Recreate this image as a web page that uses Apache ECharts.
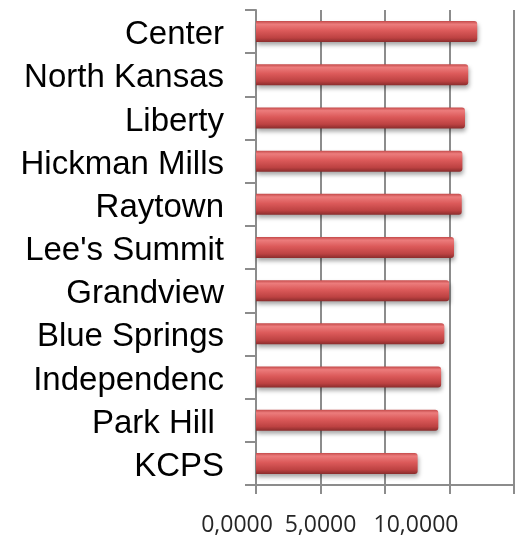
<!DOCTYPE html>
<html>
<head>
<meta charset="utf-8">
<script src="https://cdn.jsdelivr.net/npm/echarts@6/dist/echarts.min.js"></script>
<style>html,body{margin:0;padding:0;background:#fff;}#c{width:517px;height:537px;}</style>
</head>
<body>
<div id="c"></div>
<script>
var categories = ['Center', 'North Kansas', 'Liberty', 'Hickman Mills', 'Raytown', "Lee's Summit", 'Grandview', 'Blue Springs', 'Independenc', 'Park Hill ', 'KCPS'];
var values = [17150, 16450, 16200, 16000, 15950, 15350, 14980, 14600, 14350, 14130, 12530];
var tickLabels = {0: '{a|0,0000}', 5000: '{b|5,0000}', 10000: '{c|10,0000}'};

var chart = echarts.init(document.getElementById('c'));
var lbl = {fontSize: 23, fontFamily: 'Open Sans', color: '#262626'};
chart.setOption({
  animation: false,
  grid: {left: 256, right: 2, top: 10, bottom: 51},
  xAxis: {
    type: 'value', min: 0, max: 20000, interval: 5000,
    axisLine: {show: true, lineStyle: {color: '#8c8c8c', width: 2}},
    axisTick: {show: true, length: 9, lineStyle: {color: '#8c8c8c', width: 2}},
    splitLine: {show: true, lineStyle: {color: '#8c8c8c', width: 2}},
    axisLabel: {
      margin: 29,
      formatter: function (v) { return tickLabels[v] || ''; },
      rich: {
        a: Object.assign({padding: [0, 38, 0, 0]}, lbl),
        b: Object.assign({}, lbl),
        c: Object.assign({padding: [0, 0, 0, 62]}, lbl)
      }
    }
  },
  yAxis: {
    type: 'category', data: categories, inverse: true,
    axisLine: {show: true, lineStyle: {color: '#8c8c8c', width: 2}},
    axisTick: {show: true, length: 11, lineStyle: {color: '#8c8c8c', width: 2}},
    axisLabel: {
      margin: 32,
      formatter: function (v) { return '{n|' + v + '}'; },
      rich: {n: {fontSize: 33, fontFamily: 'Liberation Sans, Arial', color: '#000', padding: [7, 0, 0, 0]}}
    }
  },
  series: [{
    type: 'bar', data: values, barWidth: 21,
    itemStyle: {
      color: new echarts.graphic.LinearGradient(0, 0, 0, 1, [
        {offset: 0, color: '#c44a4a'},
        {offset: 0.15, color: '#ec7c7c'},
        {offset: 0.45, color: '#dc5a5a'},
        {offset: 0.8, color: '#bd4242'},
        {offset: 1, color: '#8a2c2c'}
      ]),
      borderRadius: [0, 3, 3, 0],
      shadowColor: 'rgba(0,0,0,0.35)', shadowBlur: 4, shadowOffsetY: 3, shadowOffsetX: 1
    }
  }]
});
</script>
</body>
</html>
